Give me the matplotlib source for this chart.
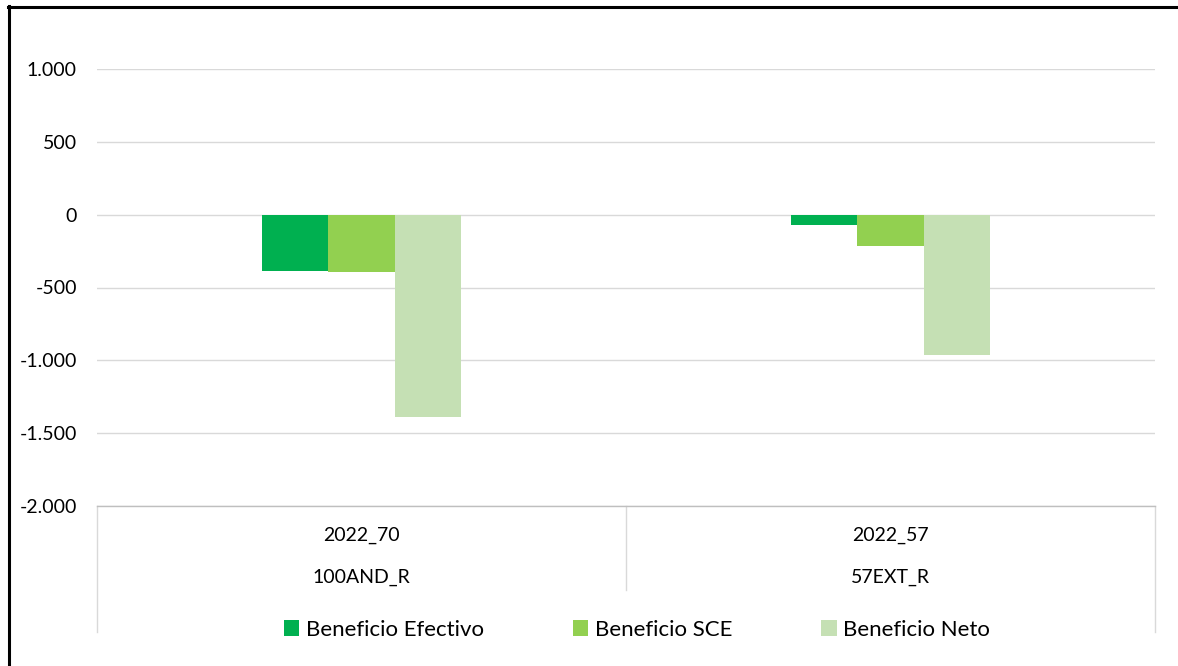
import matplotlib.pyplot as plt
import numpy as np
from matplotlib.lines import Line2D
from matplotlib.patches import Patch

plt.rcParams['font.family'] = ['Lato', 'DejaVu Sans']

years = ['2022_70', '2022_57']
codes = ['100AND_R', '57EXT_R']
series = ['Beneficio Efectivo', 'Beneficio SCE', 'Beneficio Neto']
efectivo = [-385, -70]
sce = [-395, -218]
neto = [-1390, -960]
colors = ['#00B050', '#92D050', '#C5E0B4']
yticks = [1000, 500, 0, -500, -1000, -1500, -2000]
ytick_labels = ['1.000', '500', '0', '-500', '-1.000', '-1.500', '-2.000']

W, H = 1178, 666
fig = plt.figure(figsize=(W / 100, H / 100), dpi=100, facecolor='white')
ax = fig.add_axes([97 / W, (H - 506) / H, (1155 - 97) / W, (506 - 69) / H])

x = np.arange(len(years))
bw = 0.125
for i, (vals, c) in enumerate(zip([efectivo, sce, neto], colors)):
    ax.bar(x + (i - 1) * bw, vals, width=bw, color=c, zorder=3)

ax.set_xlim(-0.5, 1.5)
ax.set_ylim(-2000, 1000)
ax.set_yticks(yticks)
ax.set_yticklabels(ytick_labels)
ax.tick_params(axis='y', length=0, pad=14.5, labelsize=14, labelcolor='black')
ax.set_xticks([])
ax.grid(axis='y', color='#D9D9D9', linewidth=1, zorder=0)
for s in ['top', 'right', 'left']:
    ax.spines[s].set_visible(False)
ax.spines['bottom'].set_color('#BFBFBF')
ax.spines['bottom'].set_linewidth(1)

# two-level category axis
tr = ax.get_xaxis_transform()
ah = 506 - 69
for xi, (yr, cd) in enumerate(zip(years, codes)):
    ax.text(xi, -(535 - 506) / ah, yr, transform=tr, ha='center', va='center', fontsize=14)
    ax.text(xi, -(577 - 506) / ah, cd, transform=tr, ha='center', va='center', fontsize=14)
for xs, ybot in [(-0.5, 632), (0.5, 590), (1.5, 632)]:
    ax.plot([xs, xs], [0, -(ybot - 506) / ah], transform=tr, color='#D9D9D9',
            linewidth=1, clip_on=False)

handles = [Patch(facecolor=c, edgecolor='none') for c in colors]
fig.legend(handles, series, loc='center', bbox_to_anchor=(637 / W, (H - 630) / H),
           ncol=3, frameon=False, fontsize=16, handlelength=0.7, handleheight=0.7,
           handletextpad=0.3, columnspacing=4.0)

# outer border (top and left only)
fig.add_artist(Line2D([8 / W, 1], [(H - 7) / H, (H - 7) / H], transform=fig.transFigure,
                      color='black', linewidth=2.2))
fig.add_artist(Line2D([9 / W, 9 / W], [0, (H - 6) / H], transform=fig.transFigure,
                      color='black', linewidth=2.2))

fig.savefig('out.png', dpi=100, facecolor='white')
